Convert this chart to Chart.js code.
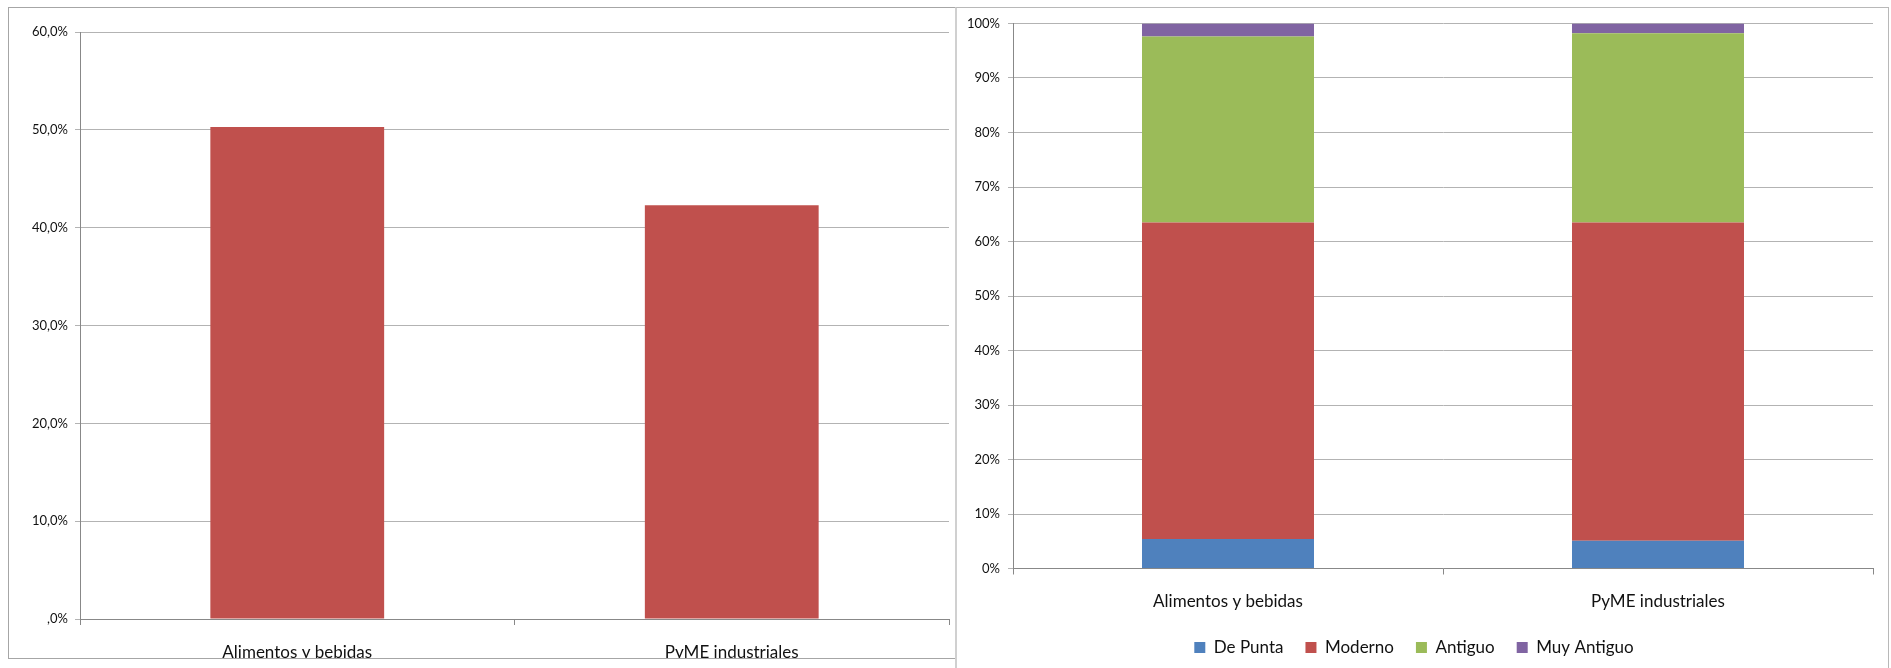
<!DOCTYPE html>
<html>
<head>
<meta charset="utf-8">
<script src="https://cdn.jsdelivr.net/npm/chart.js@4.4.1/dist/chart.umd.min.js"></script>
<style>
  html, body { margin: 0; padding: 0; background: #fff; overflow: hidden; width: 1891px; height: 668px; }
  canvas { position: absolute; }
  #leftChart { left: 0; top: 0; clip-path: inset(0 0 10px 0); }
  #rightChart { left: 955px; top: 0; }
  .frame { position: absolute; box-sizing: border-box; pointer-events: none; }
  #leftFrame { left: 8px; top: 7px; width: 948px; height: 652px; border: 1px solid #a6a6a6; }
  #rightFrame { left: 955px; top: 7px; width: 934px; height: 700px; border: 1px solid #b8b8b8; border-left: 2px solid #d0d0d0; }
</style>
</head>
<body>
<canvas id="leftChart" width="955" height="668"></canvas>
<canvas id="rightChart" width="936" height="666"></canvas>
<div class="frame" id="leftFrame"></div>
<div class="frame" id="rightFrame"></div>
<script>
const categories = ['Alimentos y bebidas', 'PyME industriales'];

// grafico izquierdo
const shareValues = [50.3, 42.3];
const leftTicks = [',0%', '10,0%', '20,0%', '30,0%', '40,0%', '50,0%', '60,0%'];

// grafico derecho (100% apilado)
const dePunta = [5.4, 5.1];
const moderno = [58.1, 58.4];
const antiguo = [34.1, 34.7];
const muyAntiguo = [2.4, 1.8];
const rightTicks = ['0%', '10%', '20%', '30%', '40%', '50%', '60%', '70%', '80%', '90%', '100%'];

const FONT = 'Lato, "Open Sans", sans-serif';
Chart.defaults.font.family = FONT;
Chart.defaults.color = '#1a1a1a';

const leftChart = new Chart(document.getElementById('leftChart').getContext('2d'), {
    type: 'bar',
    data: {
        labels: categories,
        datasets: [{
            data: shareValues,
            backgroundColor: '#C0504D',
            barPercentage: 0.4,
            categoryPercentage: 1
        }]
    },
    options: {
        responsive: false,
        animation: false,
        layout: { padding: { top: 32, right: 6, left: 0, bottom: 0 } },
        plugins: { legend: { display: false }, tooltip: { enabled: false } },
        scales: {
            x: {
                grid: { drawOnChartArea: false, tickLength: 6, color: '#888' },
                border: { color: '#888' },
                ticks: { font: { size: 17 }, padding: 17, color: '#111' },
                afterFit: s => { s.height = 49; }
            },
            y: {
                min: 0,
                max: 60,
                grid: { color: '#b3b3b3', tickLength: 5 },
                border: { color: '#888' },
                ticks: {
                    stepSize: 10,
                    font: { size: 13 },
                    padding: 7,
                    color: '#111',
                    callback: (v, i) => leftTicks[i]
                },
                afterFit: s => { s.width = 80; }
            }
        }
    }
});

const rightChart = new Chart(document.getElementById('rightChart').getContext('2d'), {
    type: 'bar',
    data: {
        labels: categories,
        datasets: [
            { label: 'De Punta', data: dePunta, backgroundColor: '#4F81BD' },
            { label: 'Moderno', data: moderno, backgroundColor: '#C0504D' },
            { label: 'Antiguo', data: antiguo, backgroundColor: '#9BBB59' },
            { label: 'Muy Antiguo', data: muyAntiguo, backgroundColor: '#8064A2' }
        ]
    },
    options: {
        responsive: false,
        animation: false,
        datasets: { bar: { barPercentage: 0.4, categoryPercentage: 1 } },
        layout: { padding: { top: 23.5, right: 18, left: 0, bottom: 0 } },
        plugins: {
            tooltip: { enabled: false },
            legend: {
                position: 'bottom',
                labels: {
                    boxWidth: 11,
                    boxHeight: 11,
                    padding: 22,
                    font: { size: 17 },
                    color: '#111'
                }
            }
        },
        scales: {
            x: {
                stacked: true,
                grid: { drawOnChartArea: false, tickLength: 6, color: '#888' },
                border: { color: '#888' },
                ticks: { font: { size: 17 }, padding: 17, color: '#111' },
                afterFit: s => { s.height = 48.5; }
            },
            y: {
                stacked: true,
                min: 0,
                max: 100,
                grid: { color: '#b3b3b3', tickLength: 5 },
                border: { color: '#888' },
                ticks: {
                    stepSize: 10,
                    font: { size: 13 },
                    padding: 8,
                    color: '#111',
                    callback: (v, i) => rightTicks[i]
                },
                afterFit: s => { s.width = 58; }
            }
        }
    }
});
</script>
</body>
</html>
